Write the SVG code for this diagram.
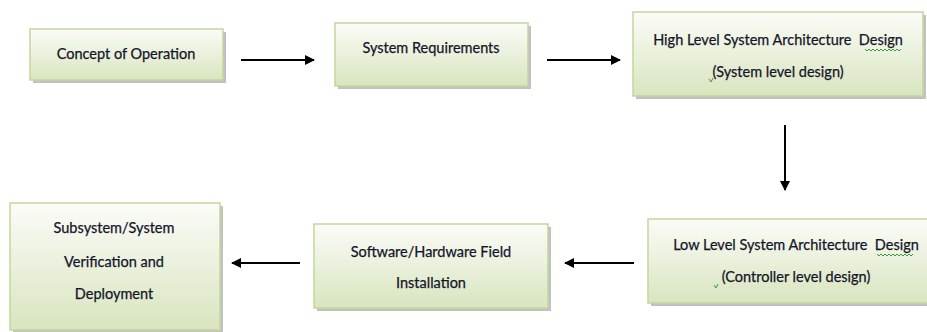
<svg xmlns="http://www.w3.org/2000/svg" width="927" height="332" viewBox="0 0 927 332">
<style>
.box{fill:url(#g);stroke:#c3d69b;stroke-width:1.5}
.sh{fill:#a6a6a6;opacity:0.7}
.t{font-family:Lato,"Liberation Sans",sans-serif;font-size:14.5px;fill:#15152a;text-anchor:middle;white-space:pre;stroke:#15152a;stroke-width:0.25}
.c{stroke:#000;stroke-width:2;fill:none;marker-end:url(#ah)}
.sq{stroke:#3c9a3c;stroke-width:1;fill:none}
</style>
<defs>
<linearGradient id="g" x1="0" y1="0" x2="0" y2="1">
<stop offset="0" stop-color="#fbfcf8"/>
<stop offset="1" stop-color="#d8e5bf"/>
</linearGradient>
<marker id="ah" markerWidth="10" markerHeight="10" refX="9" refY="5" orient="auto" markerUnits="userSpaceOnUse">
<path d="M0,0 L10,5 L0,10 Z" fill="#000"/>
</marker>
</defs>
<g id="n1">
<rect class="sh" x="33" y="32" width="193" height="51"/>
<rect class="box" x="30" y="29" width="193" height="51"/>
<text class="t" x="126" y="59">Concept of Operation</text>
</g>
<g id="n2">
<rect class="sh" x="338" y="26" width="193" height="63"/>
<rect class="box" x="335" y="23" width="193" height="63"/>
<text class="t" x="431" y="53">System Requirements</text>
</g>
<g id="n3">
<rect class="sh" x="636" y="15" width="290" height="84"/>
<rect class="box" x="633" y="12" width="290" height="84"/>
<text class="t" x="778" y="45" xml:space="preserve">High Level System Architecture  Design</text>
<text class="t" x="778" y="77">(System level design)</text>
<path class="sq" d="M865,49 l2,2 l2,-2 l2,2 l2,-2 l2,2 l2,-2 l2,2 l2,-2 l2,2 l2,-2 l2,2 l2,-2 l2,2 l2,-2 l2,2 l2,-2 l2,2 l2,-2"/>
<path class="sq" d="M709,79 l2,3 l2,-4"/>
</g>
<g id="n4">
<rect class="sh" x="651" y="222" width="280" height="84"/>
<rect class="box" x="648" y="219" width="285" height="84"/>
<text class="t" x="796" y="250" xml:space="preserve">Low Level System Architecture  Design</text>
<text class="t" x="796" y="282">(Controller level design)</text>
<path class="sq" d="M877,254 l2,2 l2,-2 l2,2 l2,-2 l2,2 l2,-2 l2,2 l2,-2 l2,2 l2,-2 l2,2 l2,-2 l2,2 l2,-2 l2,2 l2,-2 l2,2 l2,-2"/>
<path class="sq" d="M714,285 l2,3 l2,-4"/>
</g>
<g id="n5">
<rect class="sh" x="317" y="227" width="234" height="84"/>
<rect class="box" x="314" y="224" width="234" height="84"/>
<text class="t" x="431" y="257">Software/Hardware Field</text>
<text class="t" x="431" y="288">Installation</text>
</g>
<g id="n6">
<rect class="sh" x="13" y="206" width="210" height="127"/>
<rect class="box" x="10" y="203" width="210" height="127"/>
<text class="t" x="114" y="233">Subsystem/System</text>
<text class="t" x="114" y="267">Verification and</text>
<text class="t" x="114" y="299">Deployment</text>
</g>
<g id="connectors">
<line class="c" x1="241" y1="60" x2="314" y2="60"/>
<line class="c" x1="547" y1="60" x2="620" y2="60"/>
<line class="c" x1="785" y1="125" x2="785" y2="190"/>
<line class="c" x1="634" y1="263" x2="565" y2="263"/>
<line class="c" x1="300" y1="263" x2="232" y2="263"/>
</g>
</svg>
